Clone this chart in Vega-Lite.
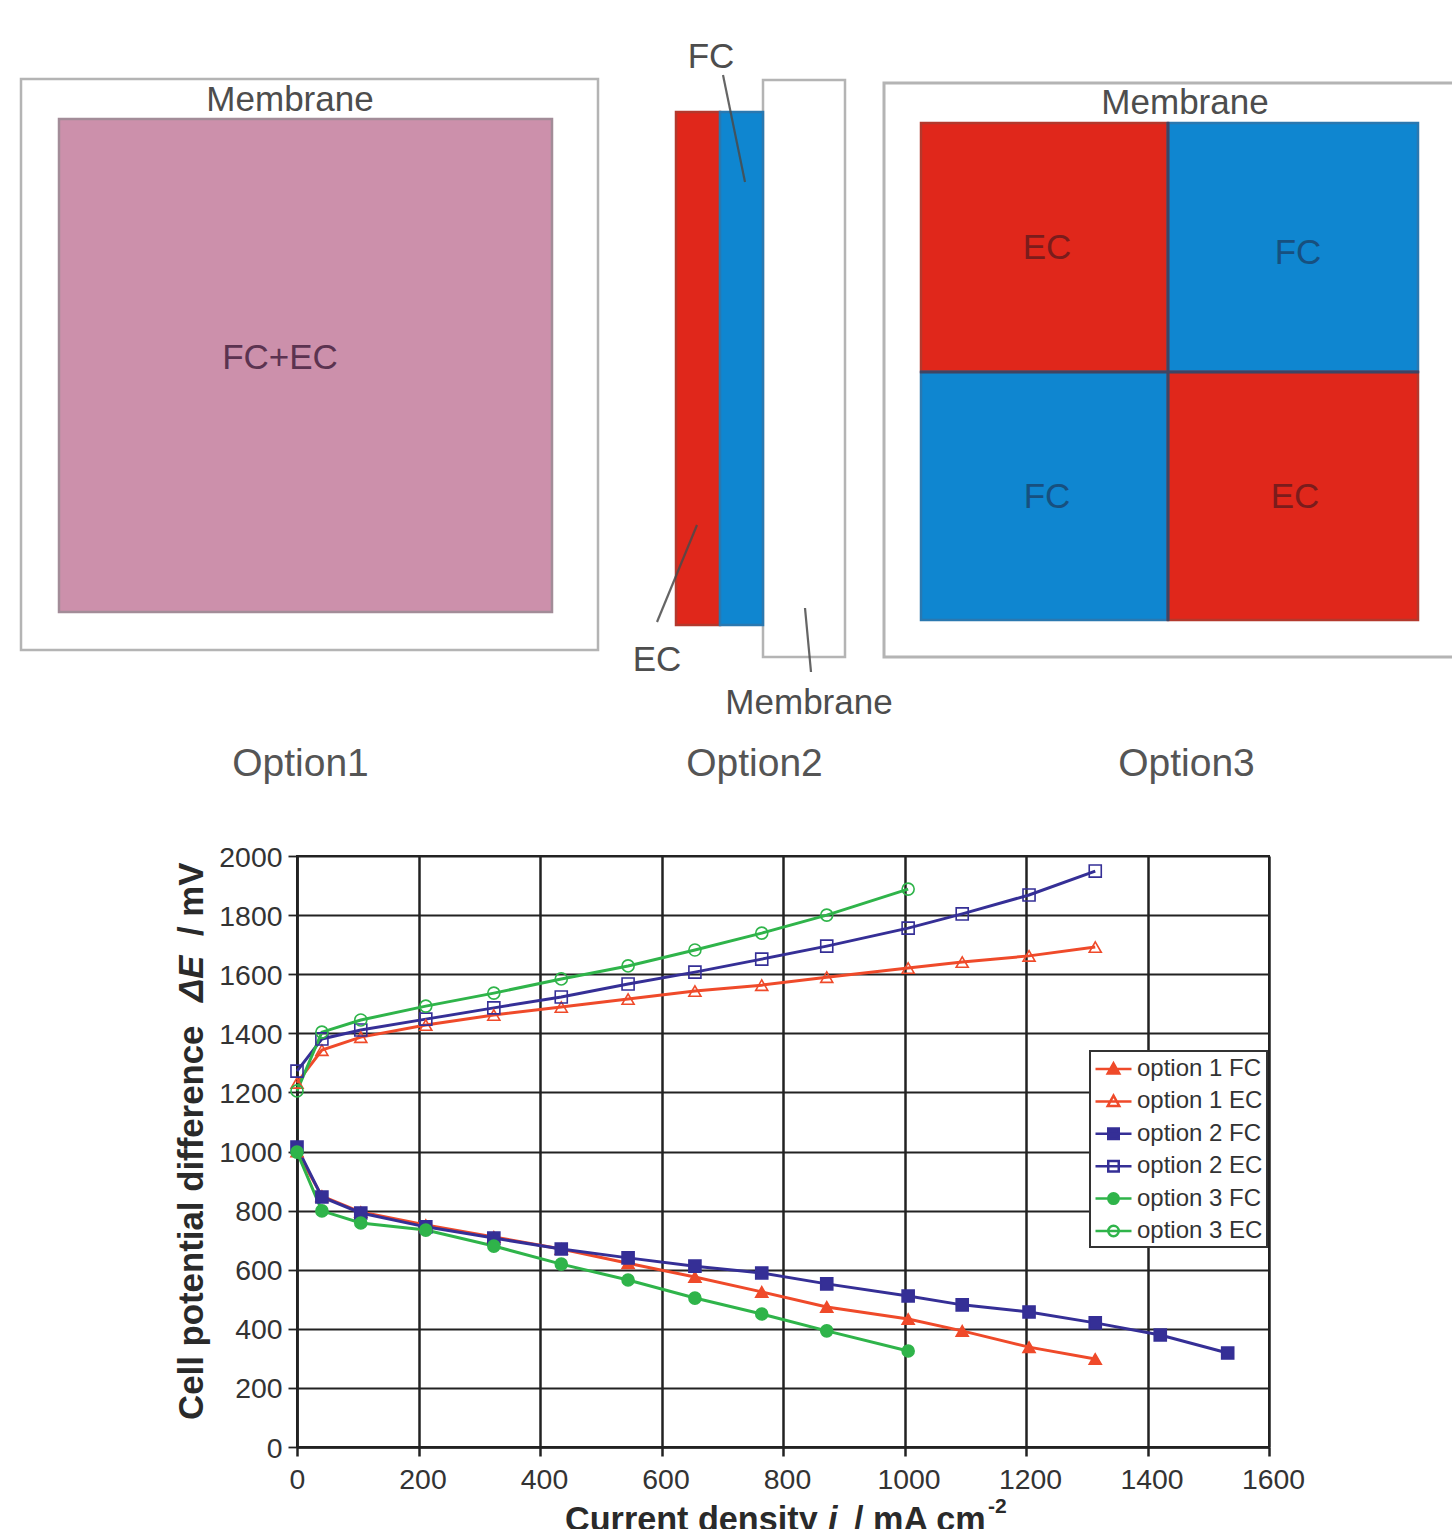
{
"$schema":"https://vega.github.io/schema/vega-lite/v6.json",
"width":972,"height":591,"padding":0,"autosize":{"type":"pad"},"background":"white",
"config":{"view":{"stroke":"#222","strokeWidth":2},"font":"Liberation Sans","legend":{"strokeWidth":2}},
"datasets":{
"rects":[
{"part":"bg","x":2,"x2":1450,"y":2,"y2":835},
{"part":"frame","x":21,"x2":598,"y":79,"y2":650},
{"part":"frame","x":763,"x2":845,"y":80,"y2":657},
{"part":"pink","x":59,"x2":552,"y":119,"y2":612},
{"part":"red","x":676,"x2":720,"y":112,"y2":625},
{"part":"blue","x":720,"x2":763,"y":112,"y2":625},
{"part":"red","x":921,"x2":1168,"y":123,"y2":372},
{"part":"blue","x":1168,"x2":1418,"y":123,"y2":372},
{"part":"blue","x":921,"x2":1168,"y":372,"y2":620},
{"part":"red","x":1168,"x2":1418,"y":372,"y2":620}],
"frameLines":[
{"id":"f3","o":1,"x":1452,"y":83},{"id":"f3","o":2,"x":884,"y":83},{"id":"f3","o":3,"x":884,"y":657},{"id":"f3","o":4,"x":1452,"y":657}],
"dividers":[
{"id":"v","o":1,"x":1168,"y":122},{"id":"v","o":2,"x":1168,"y":621},
{"id":"h","o":1,"x":920,"y":372},{"id":"h","o":2,"x":1419,"y":372}],
"leaders":[
{"id":"fc","o":1,"x":723,"y":75},{"id":"fc","o":2,"x":745,"y":182},
{"id":"ec","o":1,"x":657,"y":622},{"id":"ec","o":2,"x":697,"y":525},
{"id":"mem","o":1,"x":805,"y":608},{"id":"mem","o":2,"x":811,"y":672}],
"labels":[
{"t":"Membrane","tone":"gray","x":290,"y":99.5},
{"t":"FC+EC","tone":"plum","x":280,"y":357.5},
{"t":"FC","tone":"gray","x":711,"y":56.5},
{"t":"EC","tone":"gray","x":657,"y":659.5},
{"t":"Membrane","tone":"gray","x":809,"y":702.5},
{"t":"Membrane","tone":"gray","x":1185,"y":102.5},
{"t":"EC","tone":"ec","x":1047,"y":247.5},
{"t":"FC","tone":"fc","x":1298,"y":252.5},
{"t":"FC","tone":"fc","x":1047,"y":496.5},
{"t":"EC","tone":"ec","x":1295,"y":496.5}],
"captions":[
{"t":"Option1","x":300.5,"y":764},{"t":"Option2","x":754.5,"y":764},{"t":"Option3","x":1186.5,"y":764}],
"xTitleBold":[{"t":"Current density","x":565,"y":1531},{"t":"/ mA cm","x":854,"y":1531}],
"xTitleItalic":[{"t":"i","x":828,"y":1531}],
"xTitleSup":[{"t":"-2","x":988,"y":1513}],
"yTitleBold":[{"t":"Cell potential difference","x":203,"y":1420},{"t":"/ mV","x":203,"y":936}],
"yTitleItalic":[{"t":"ΔE","x":203,"y":1002}],
"series":[{"series":"option 1 FC"},{"series":"option 1 EC"},{"series":"option 2 FC"},{"series":"option 2 EC"},{"series":"option 3 FC"},{"series":"option 3 EC"}],
"curves":[
{"series":"option 1 FC","i":0,"e":1000},{"series":"option 1 FC","i":41,"e":849},{"series":"option 1 FC","i":105,"e":795},{"series":"option 1 FC","i":212,"e":751},{"series":"option 1 FC","i":324,"e":711},{"series":"option 1 FC","i":435,"e":670},{"series":"option 1 FC","i":545,"e":622},{"series":"option 1 FC","i":655,"e":575},{"series":"option 1 FC","i":765,"e":525},{"series":"option 1 FC","i":872,"e":474},{"series":"option 1 FC","i":1006,"e":433},{"series":"option 1 FC","i":1095,"e":393},{"series":"option 1 FC","i":1205,"e":338},{"series":"option 1 FC","i":1314,"e":298},
{"series":"option 1 EC","i":0,"e":1232},{"series":"option 1 EC","i":41,"e":1343},{"series":"option 1 EC","i":105,"e":1387},{"series":"option 1 EC","i":212,"e":1428},{"series":"option 1 EC","i":324,"e":1462},{"series":"option 1 EC","i":435,"e":1489},{"series":"option 1 EC","i":545,"e":1516},{"series":"option 1 EC","i":655,"e":1543},{"series":"option 1 EC","i":765,"e":1563},{"series":"option 1 EC","i":872,"e":1590},{"series":"option 1 EC","i":1006,"e":1621},{"series":"option 1 EC","i":1095,"e":1641},{"series":"option 1 EC","i":1205,"e":1662},{"series":"option 1 EC","i":1314,"e":1692},
{"series":"option 2 FC","i":0,"e":1015},{"series":"option 2 FC","i":41,"e":846},{"series":"option 2 FC","i":105,"e":792},{"series":"option 2 FC","i":212,"e":745},{"series":"option 2 FC","i":324,"e":707},{"series":"option 2 FC","i":435,"e":670},{"series":"option 2 FC","i":545,"e":640},{"series":"option 2 FC","i":655,"e":612},{"series":"option 2 FC","i":765,"e":589},{"series":"option 2 FC","i":872,"e":552},{"series":"option 2 FC","i":1006,"e":511},{"series":"option 2 FC","i":1095,"e":481},{"series":"option 2 FC","i":1205,"e":457},{"series":"option 2 FC","i":1314,"e":420},{"series":"option 2 FC","i":1421,"e":379},{"series":"option 2 FC","i":1532,"e":318},
{"series":"option 2 EC","i":0,"e":1272},{"series":"option 2 EC","i":41,"e":1381},{"series":"option 2 EC","i":105,"e":1411},{"series":"option 2 EC","i":212,"e":1448},{"series":"option 2 EC","i":324,"e":1486},{"series":"option 2 EC","i":435,"e":1523},{"series":"option 2 EC","i":545,"e":1567},{"series":"option 2 EC","i":655,"e":1607},{"series":"option 2 EC","i":765,"e":1651},{"series":"option 2 EC","i":872,"e":1695},{"series":"option 2 EC","i":1006,"e":1756},{"series":"option 2 EC","i":1095,"e":1804},{"series":"option 2 EC","i":1205,"e":1868},{"series":"option 2 EC","i":1314,"e":1949},
{"series":"option 3 FC","i":0,"e":998},{"series":"option 3 FC","i":41,"e":799},{"series":"option 3 FC","i":105,"e":758},{"series":"option 3 FC","i":212,"e":734},{"series":"option 3 FC","i":324,"e":680},{"series":"option 3 FC","i":435,"e":619},{"series":"option 3 FC","i":545,"e":565},{"series":"option 3 FC","i":655,"e":504},{"series":"option 3 FC","i":765,"e":450},{"series":"option 3 FC","i":872,"e":393},{"series":"option 3 FC","i":1006,"e":325},
{"series":"option 3 EC","i":0,"e":1205},{"series":"option 3 EC","i":41,"e":1404},{"series":"option 3 EC","i":105,"e":1445},{"series":"option 3 EC","i":212,"e":1492},{"series":"option 3 EC","i":324,"e":1536},{"series":"option 3 EC","i":435,"e":1584},{"series":"option 3 EC","i":545,"e":1628},{"series":"option 3 EC","i":655,"e":1682},{"series":"option 3 EC","i":765,"e":1739},{"series":"option 3 EC","i":872,"e":1800},{"series":"option 3 EC","i":1006,"e":1888}]
},
"resolve":{"scale":{"x":"independent","y":"independent","fill":"independent","stroke":"independent","color":"independent","shape":"independent"}},
"layer":[
{
"encoding":{
"x":{"field":"x","type":"quantitative","axis":null,"scale":{"domain":[0,1452],"range":[-297,1155],"nice":false,"zero":false}},
"y":{"field":"y","type":"quantitative","axis":null,"scale":{"domain":[0,1529],"range":[-856,673],"nice":false,"zero":false}}
},
"layer":[
{"data":{"name":"rects"},"mark":{"type":"rect","strokeWidth":2.5,"clip":false},
"encoding":{"x2":{"field":"x2"},"y2":{"field":"y2"},
"fill":{"field":"part","type":"nominal","legend":null,"scale":{"domain":["bg","frame","pink","red","blue"],"range":["#ffffff","transparent","#cc90ab","#e0271b","#0f86d0"]}},
"stroke":{"field":"part","type":"nominal","legend":null,"scale":{"domain":["bg","frame","pink","red","blue"],"range":["transparent","#b4b4b4","#a28c98","#b4382c","#2a78b0"]}}}},
{"data":{"name":"frameLines"},"mark":{"type":"line","stroke":"#b4b4b4","strokeWidth":3,"clip":false},"encoding":{"detail":{"field":"id"},"order":{"field":"o"}}},
{"data":{"name":"dividers"},"mark":{"type":"line","stroke":"#3f4463","strokeWidth":3,"clip":false},"encoding":{"detail":{"field":"id"},"order":{"field":"o"}}},
{"data":{"name":"leaders"},"mark":{"type":"line","stroke":"#4a4a4a","strokeWidth":2.2,"opacity":0.85,"clip":false},"encoding":{"detail":{"field":"id"},"order":{"field":"o"}}},
{"data":{"name":"labels"},"mark":{"type":"text","fontSize":35,"align":"center","baseline":"middle","clip":false},
"encoding":{"text":{"field":"t"},"color":{"field":"tone","type":"nominal","legend":null,"scale":{"domain":["gray","plum","ec","fc"],"range":["#4d4d4d","#5b3350","#7a1c1c","#17507f"]}}}},
{"data":{"name":"captions"},"mark":{"type":"text","fontSize":39,"align":"center","baseline":"middle","fill":"#555","clip":false},"encoding":{"text":{"field":"t"}}},
{"data":{"name":"xTitleBold"},"mark":{"type":"text","fontSize":34.2,"fontWeight":"bold","align":"left","baseline":"alphabetic","fill":"#2a2a2a","clip":false},"encoding":{"text":{"field":"t"}}},
{"data":{"name":"xTitleItalic"},"mark":{"type":"text","fontSize":34.2,"fontWeight":"bold","fontStyle":"italic","align":"left","baseline":"alphabetic","fill":"#2a2a2a","clip":false},"encoding":{"text":{"field":"t"}}},
{"data":{"name":"xTitleSup"},"mark":{"type":"text","fontSize":21,"fontWeight":"bold","align":"left","baseline":"alphabetic","fill":"#2a2a2a","clip":false},"encoding":{"text":{"field":"t"}}},
{"data":{"name":"yTitleBold"},"mark":{"type":"text","fontSize":34.8,"fontWeight":"bold","align":"left","baseline":"alphabetic","angle":270,"fill":"#2a2a2a","clip":false},"encoding":{"text":{"field":"t"}}},
{"data":{"name":"yTitleItalic"},"mark":{"type":"text","fontSize":34.8,"fontWeight":"bold","fontStyle":"italic","align":"left","baseline":"alphabetic","angle":270,"fill":"#2a2a2a","clip":false},"encoding":{"text":{"field":"t"}}}
]
},
{
"resolve":{"scale":{"shape":"independent","fill":"independent","stroke":"independent"}},
"layer":[
{"data":{"name":"curves"},"mark":{"type":"line","strokeWidth":3},
"encoding":{
"x":{"field":"i","type":"quantitative","title":null,"scale":{"domain":[0,1600],"nice":false},
"axis":{"values":[0,200,400,600,800,1000,1200,1400,1600],"grid":true,"gridColor":"#222","gridWidth":2.5,"gridOpacity":1,"domainColor":"#222","domainWidth":2.5,"tickColor":"#222","tickWidth":2.5,"tickSize":9,"labelFontSize":28.4,"labelColor":"#333","labelPadding":10,"labelFlush":false,"labelOverlap":false,"format":"d","labelOffset":{"condition":{"test":"datum.value===0","value":0},"value":4}}},
"y":{"field":"e","type":"quantitative","title":null,"scale":{"domain":[0,2000],"nice":false},
"axis":{"values":[0,200,400,600,800,1000,1200,1400,1600,1800,2000],"grid":true,"gridColor":"#222","gridWidth":1.8,"gridOpacity":1,"domainColor":"#222","domainWidth":2.5,"tickColor":"#222","tickWidth":1.8,"tickSize":9,"labelFontSize":28.4,"labelColor":"#333","labelPadding":6,"labelOffset":1,"labelOverlap":false,"format":"d"}},
"detail":{"field":"series"},
"stroke":{"field":"series","type":"nominal","legend":null,"scale":{"domain":["option 1 FC","option 1 EC","option 2 FC","option 2 EC","option 3 FC","option 3 EC"],"range":["#ef4a2a","#ef4a2a","#352f96","#352f96","#2fb44a","#2fb44a"]}}}},
{"data":{"name":"curves"},"mark":{"type":"point","size":145,"strokeWidth":1.6,"opacity":1},
"encoding":{
"x":{"field":"i","type":"quantitative","title":null,"scale":{"domain":[0,1600],"nice":false}},
"y":{"field":"e","type":"quantitative","title":null,"scale":{"domain":[0,2000],"nice":false}},
"stroke":{"field":"series","type":"nominal","legend":null,"scale":{"domain":["option 1 FC","option 1 EC","option 2 FC","option 2 EC","option 3 FC","option 3 EC"],"range":["#ef4a2a","#ef4a2a","#352f96","#352f96","#2fb44a","#2fb44a"]}},
"fill":{"field":"series","type":"nominal","legend":null,"scale":{"domain":["option 1 FC","option 1 EC","option 2 FC","option 2 EC","option 3 FC","option 3 EC"],"range":["#ef4a2a","transparent","#352f96","transparent","#2fb44a","transparent"]}},
"shape":{"field":"series","type":"nominal","legend":null,"scale":{"domain":["option 1 FC","option 1 EC","option 2 FC","option 2 EC","option 3 FC","option 3 EC"],"range":["triangle-up","triangle-up","square","square","circle","circle"]}}}},
{"data":{"name":"series"},"mark":{"type":"point","size":0,"opacity":1,"strokeWidth":2.5},
"encoding":{
"stroke":{"field":"series","type":"nominal","title":null,"scale":{"domain":["option 1 FC","option 1 EC","option 2 FC","option 2 EC","option 3 FC","option 3 EC"],"range":["#ef4a2a","#ef4a2a","#352f96","#352f96","#2fb44a","#2fb44a"]},
"legend":{"orient":"none","legendX":793,"legendY":195,"title":null,"fillColor":"white","strokeColor":"#333","padding":4,"symbolSize":625,"symbolStrokeWidth":2.5,"labelFontSize":24,"labelColor":"#333","labelOffset":15,"rowPadding":6.4,"labelLimit":200}},
"fill":{"field":"series","type":"nominal","title":null,"scale":{"domain":["option 1 FC","option 1 EC","option 2 FC","option 2 EC","option 3 FC","option 3 EC"],"range":["#ef4a2a","transparent","#352f96","transparent","#2fb44a","transparent"]},
"legend":{"orient":"none","legendX":793,"legendY":195,"title":null,"fillColor":"white","strokeColor":"#333","padding":4,"symbolSize":625,"symbolStrokeWidth":2.5,"labelFontSize":24,"labelColor":"#333","labelOffset":15,"rowPadding":6.4,"labelLimit":200}},
"shape":{"field":"series","type":"nominal","title":null,"scale":{"domain":["option 1 FC","option 1 EC","option 2 FC","option 2 EC","option 3 FC","option 3 EC"],
"range":["M-1,0H1.88M0.44,-0.46L0.9,0.36L-0.02,0.36Z","M-1,0H1.88M0.44,-0.46L0.9,0.36L-0.02,0.36Z","M-1,0H1.88M0.02,-0.42H0.86V0.42H0.02Z","M-1,0H1.88M0.02,-0.42H0.86V0.42H0.02Z","M-1,0H1.88M0.02,0A0.42,0.42,0,1,1,0.86,0A0.42,0.42,0,1,1,0.02,0Z","M-1,0H1.88M0.02,0A0.42,0.42,0,1,1,0.86,0A0.42,0.42,0,1,1,0.02,0Z"]},
"legend":{"orient":"none","legendX":793,"legendY":195,"title":null,"fillColor":"white","strokeColor":"#333","padding":4,"symbolSize":625,"symbolStrokeWidth":2.5,"labelFontSize":24,"labelColor":"#333","labelOffset":15,"rowPadding":6.4,"labelLimit":200}}}}
]
}
]
}
